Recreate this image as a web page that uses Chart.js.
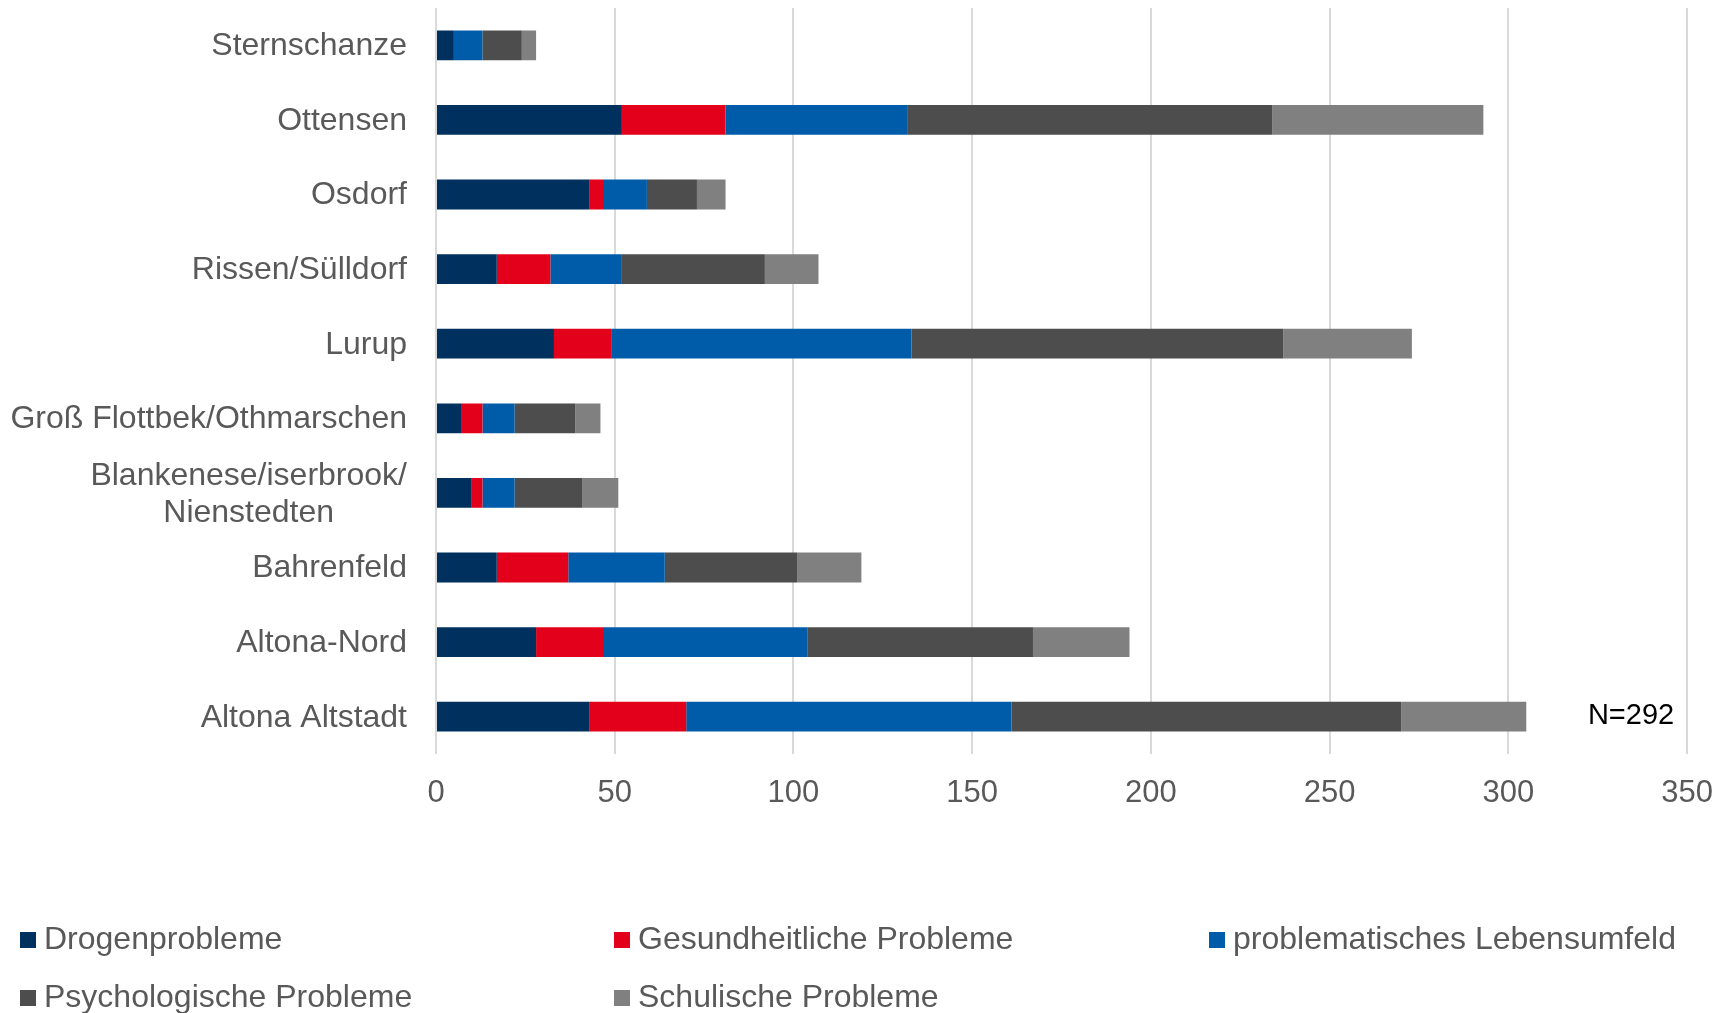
<!DOCTYPE html>
<html>
<head>
<meta charset="utf-8">
<script src="https://cdn.jsdelivr.net/npm/chart.js@4/dist/chart.umd.min.js"></script>
<style>
  html, body { margin: 0; padding: 0; background: #fff; }
  #wrap { width: 1734px; height: 1013px; position: relative; }
</style>
</head>
<body>
<div id="wrap"><canvas id="problemChart"></canvas></div>
<script>
// Stadtteile (von oben nach unten)
const stadtteile = [
    "Sternschanze",
    "Ottensen",
    "Osdorf",
    "Rissen/Sülldorf",
    "Lurup",
    "Groß Flottbek/Othmarschen",
    ["Blankenese/iserbrook/", "Nienstedten"],
    "Bahrenfeld",
    "Altona-Nord",
    "Altona Altstadt"
];

// Werte je Problemfeld
const drogenprobleme   = [5, 52, 43, 17, 33, 7, 10, 17, 28, 43];
const gesundheitlich   = [0, 29, 4, 15, 16, 6, 3, 20, 19, 27];
const lebensumfeld     = [8, 51, 12, 20, 84, 9, 9, 27, 57, 91];
const psychologisch    = [11, 102, 14, 40, 104, 17, 19, 37, 63, 109];
const schulisch        = [4, 59, 8, 15, 36, 7, 10, 18, 27, 35];

const xTicks = [0, 50, 100, 150, 200, 250, 300, 350];
const hinweis = "N=292";

const FONT = "'Liberation Sans', Arial, sans-serif";
const TEXT_COLOR = "#595959";

/* ==========================
   PLUGINS: Achsenbeschriftung, Hinweis, Legende
========================== */
const labelPlugin = {
    id: 'labelPlugin',
    afterDraw(chart) {
        const ctx = chart.ctx;
        const yScale = chart.scales.y;
        const xScale = chart.scales.x;
        ctx.save();

        // Kategorien (mehrzeilige zentriert, wie in Excel)
        ctx.font = "32px " + FONT;
        ctx.fillStyle = TEXT_COLOR;
        ctx.textBaseline = 'middle';
        const right = chart.chartArea.left - 29;
        const lineH = 37;
        stadtteile.forEach((lab, i) => {
            const y = yScale.getPixelForValue(i) + 1;
            if (Array.isArray(lab)) {
                const maxW = Math.max(...lab.map(l => ctx.measureText(l).width));
                const cx = right - maxW / 2;
                ctx.textAlign = 'center';
                lab.forEach((l, k) => {
                    ctx.fillText(l, cx, y + 1 + (k - (lab.length - 1) / 2) * lineH);
                });
            } else {
                ctx.textAlign = 'right';
                ctx.fillText(lab, right, y);
            }
        });

        // N=292
        ctx.font = "29px " + FONT;
        ctx.fillStyle = "#000";
        ctx.textAlign = 'right';
        ctx.fillText(hinweis, xScale.getPixelForValue(350) - 13, yScale.getPixelForValue(stadtteile.length - 1) - 1);

        // Legende in 3 Spalten
        const cols = [20, 614, 1209];
        const rows = [940, 998];
        ctx.font = "32px " + FONT;
        ctx.textAlign = 'left';
        chart.data.datasets.forEach((ds, i) => {
            const x = cols[i % 3];
            const y = rows[Math.floor(i / 3)];
            ctx.fillStyle = ds.backgroundColor;
            ctx.fillRect(x, y - 8, 16, 16);
            ctx.fillStyle = TEXT_COLOR;
            ctx.fillText(ds.label, x + 24, y);
        });

        ctx.restore();
    }
};

/* ==========================
   DIAGRAMM
========================== */
function makeSet(label, data, color) {
    return {
        label: label,
        data: data,
        backgroundColor: color,
        borderWidth: 0,
        barPercentage: 0.4,
        categoryPercentage: 1.0
    };
}

const ctx = document.getElementById('problemChart').getContext('2d');
const problemChart = new Chart(ctx, {
    type: 'bar',
    data: {
        labels: stadtteile,
        datasets: [
            makeSet('Drogenprobleme', drogenprobleme, '#00305E'),
            makeSet('Gesundheitliche Probleme', gesundheitlich, '#E2001A'),
            makeSet('problematisches Lebensumfeld', lebensumfeld, '#005CA9'),
            makeSet('Psychologische Probleme', psychologisch, '#4D4D4D'),
            makeSet('Schulische Probleme', schulisch, '#808080')
        ]
    },
    options: {
        indexAxis: 'y',
        responsive: true,
        maintainAspectRatio: false,
        animation: false,
        layout: { padding: { top: 8, right: 43, bottom: 199, left: 0 } },
        plugins: {
            legend: { display: false },
            tooltip: { enabled: false }
        },
        scales: {
            x: {
                stacked: true,
                min: 0,
                max: 350,
                afterBuildTicks(scale) {
                    scale.ticks = xTicks.map(v => ({ value: v }));
                },
                afterFit(scale) { scale.height = 60; },
                grid: { color: '#D9D9D9', lineWidth: 2, drawTicks: false },
                border: { display: false },
                ticks: {
                    padding: 21,
                    color: TEXT_COLOR,
                    font: { family: FONT, size: 31 },
                    maxRotation: 0
                }
            },
            y: {
                stacked: true,
                afterFit(scale) { scale.width = 436; },
                grid: { display: false },
                border: { display: false },
                ticks: { display: false }
            }
        }
    },
    plugins: [labelPlugin]
});
</script>
</body>
</html>
